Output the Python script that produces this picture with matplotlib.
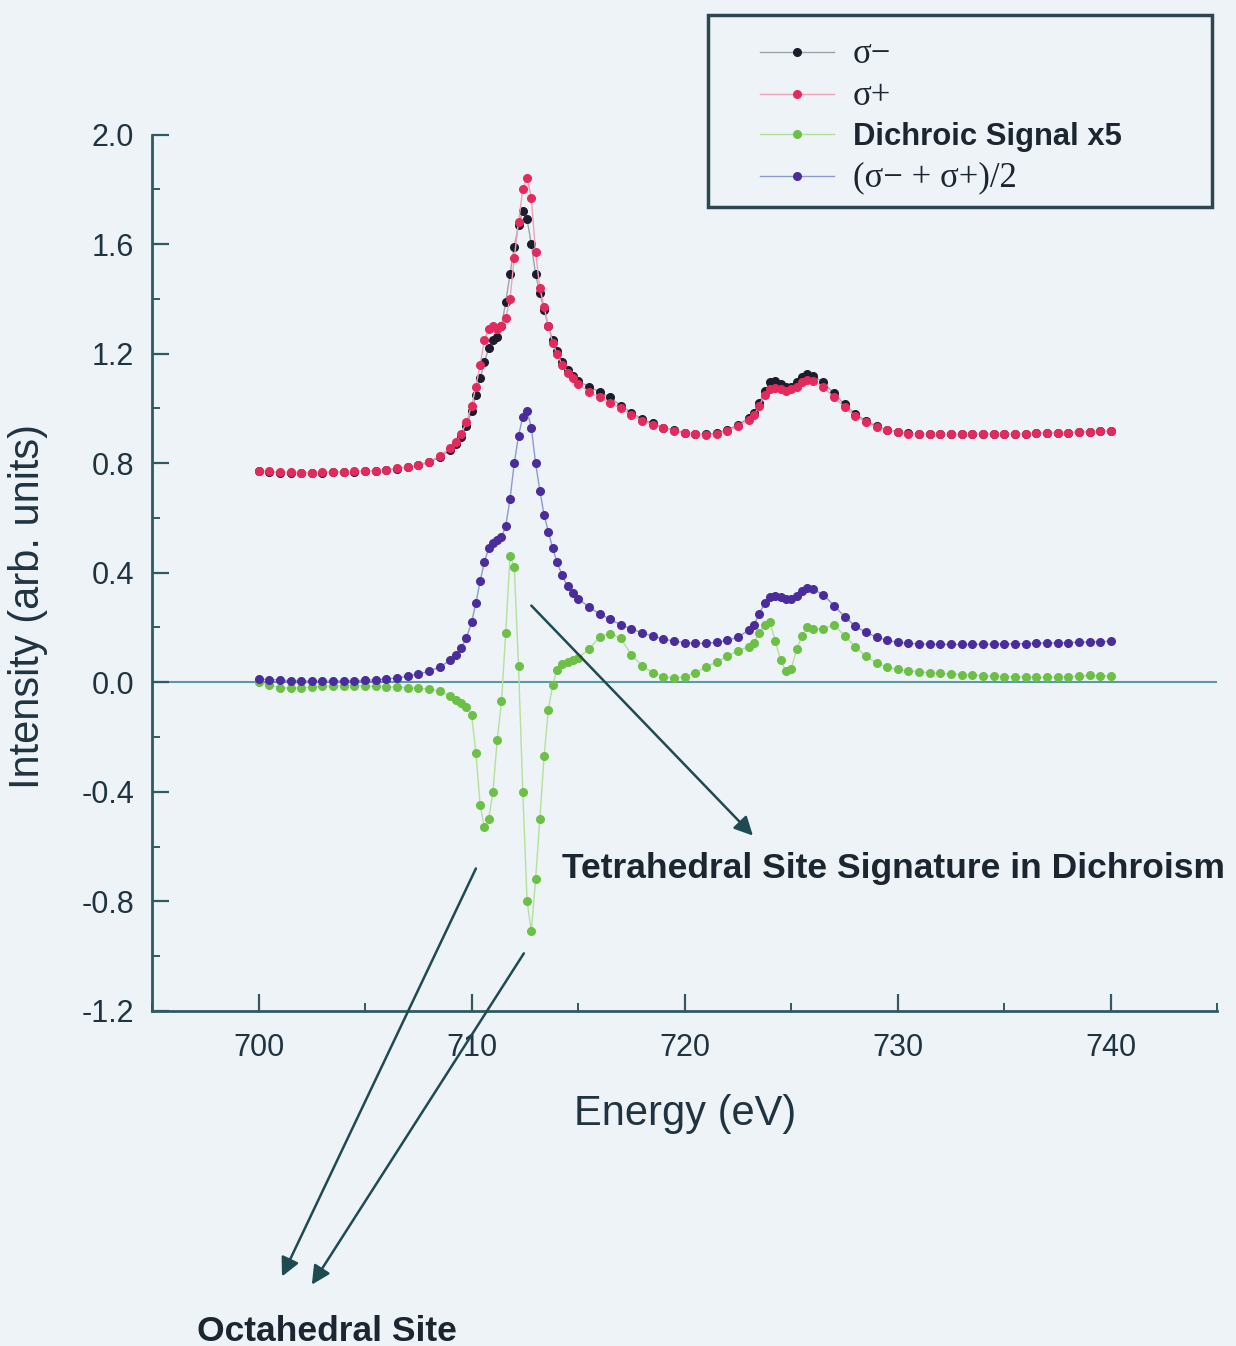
import numpy as np
import matplotlib.pyplot as plt
from matplotlib.patches import Rectangle
from matplotlib.ticker import MultipleLocator

# Energy grid (eV) shared by all spectra
energy = [700, 700.5, 701, 701.5, 702, 702.5, 703, 703.5, 704, 704.5,
          705, 705.5, 706, 706.5, 707, 707.5, 708, 708.5, 709, 709.25,
          709.5, 709.75, 710, 710.2, 710.4, 710.6, 710.8, 711, 711.2, 711.4,
          711.6, 711.8, 712, 712.2, 712.4, 712.6, 712.8, 713, 713.2, 713.4,
          713.6, 713.8, 714, 714.25, 714.5, 714.75, 715, 715.5, 716, 716.5,
          717, 717.5, 718, 718.5, 719, 719.5, 720, 720.5, 721, 721.5,
          722, 722.5, 723, 723.25, 723.5, 723.75, 724, 724.25, 724.5, 724.75,
          725, 725.25, 725.5, 725.75, 726, 726.5, 727, 727.5, 728, 728.5,
          729, 729.5, 730, 730.5, 731, 731.5, 732, 732.5, 733, 733.5,
          734, 734.5, 735, 735.5, 736, 736.5, 737, 737.5, 738, 738.5,
          739, 739.5, 740]

sigma_minus = [0.770, 0.768, 0.766, 0.765, 0.765, 0.765, 0.766, 0.767, 0.768, 0.769,
               0.770, 0.772, 0.775, 0.780, 0.786, 0.793, 0.803, 0.822, 0.850, 0.870,
               0.895, 0.935, 0.99, 1.05, 1.11, 1.17, 1.22, 1.25, 1.26, 1.30,
               1.39, 1.49, 1.59, 1.67, 1.72, 1.69, 1.60, 1.49, 1.42, 1.36,
               1.30, 1.25, 1.21, 1.17, 1.14, 1.12, 1.10, 1.08, 1.06, 1.04,
               1.01, 0.985, 0.96, 0.945, 0.93, 0.92, 0.912, 0.906, 0.905, 0.910,
               0.922, 0.940, 0.965, 0.985, 1.02, 1.065, 1.095, 1.10, 1.09, 1.08,
               1.08, 1.095, 1.115, 1.125, 1.12, 1.095, 1.055, 1.015, 0.98, 0.955,
               0.935, 0.922, 0.914, 0.909, 0.906, 0.905, 0.905, 0.905, 0.905, 0.905,
               0.906, 0.906, 0.907, 0.907, 0.908, 0.909, 0.910, 0.911, 0.912, 0.913,
               0.915, 0.916, 0.918]

sigma_plus = [0.772, 0.770, 0.768, 0.767, 0.766, 0.766, 0.767, 0.768, 0.769, 0.770,
              0.771, 0.773, 0.776, 0.781, 0.787, 0.795, 0.806, 0.826, 0.856, 0.878,
              0.905, 0.950, 1.01, 1.08, 1.16, 1.25, 1.29, 1.30, 1.29, 1.30,
              1.33, 1.40, 1.55, 1.68, 1.80, 1.84, 1.77, 1.57, 1.44, 1.37,
              1.30, 1.24, 1.20, 1.16, 1.13, 1.11, 1.09, 1.06, 1.04, 1.02,
              1.00, 0.975, 0.955, 0.94, 0.928, 0.918, 0.910, 0.905, 0.903, 0.907,
              0.918, 0.935, 0.958, 0.975, 1.01, 1.05, 1.07, 1.075, 1.07, 1.065,
              1.07, 1.08, 1.095, 1.105, 1.10, 1.08, 1.04, 1.005, 0.972, 0.95,
              0.932, 0.920, 0.913, 0.908, 0.906, 0.905, 0.905, 0.905, 0.905, 0.905,
              0.906, 0.906, 0.907, 0.907, 0.908, 0.909, 0.910, 0.911, 0.912, 0.913,
              0.915, 0.916, 0.918]

dichroic_x5 = [0.0, -0.01, -0.02, -0.022, -0.02, -0.018, -0.015, -0.014, -0.013, -0.013,
               -0.014, -0.015, -0.016, -0.018, -0.02, -0.022, -0.025, -0.032, -0.05, -0.063,
               -0.075, -0.09, -0.12, -0.26, -0.45, -0.53, -0.50, -0.40, -0.21, -0.07,
               0.18, 0.46, 0.42, 0.06, -0.40, -0.80, -0.91, -0.72, -0.50, -0.27,
               -0.10, -0.01, 0.045, 0.065, 0.075, 0.082, 0.09, 0.12, 0.165, 0.178,
               0.16, 0.10, 0.06, 0.035, 0.02, 0.015, 0.02, 0.035, 0.055, 0.075,
               0.095, 0.115, 0.13, 0.145, 0.18, 0.21, 0.22, 0.15, 0.08, 0.04,
               0.05, 0.12, 0.17, 0.20, 0.195, 0.195, 0.21, 0.17, 0.13, 0.095,
               0.07, 0.055, 0.047, 0.042, 0.038, 0.035, 0.032, 0.03, 0.028, 0.026,
               0.024, 0.022, 0.021, 0.02, 0.019, 0.018, 0.018, 0.018, 0.02, 0.022,
               0.025, 0.024, 0.022]

average = [0.012, 0.010, 0.008, 0.006, 0.005, 0.004, 0.004, 0.004, 0.005, 0.006,
           0.007, 0.009, 0.012, 0.016, 0.022, 0.030, 0.04, 0.056, 0.08, 0.10,
           0.125, 0.16, 0.22, 0.29, 0.37, 0.44, 0.49, 0.51, 0.52, 0.53,
           0.57, 0.67, 0.80, 0.90, 0.97, 0.99, 0.93, 0.80, 0.70, 0.61,
           0.55, 0.49, 0.44, 0.39, 0.35, 0.325, 0.305, 0.275, 0.25, 0.23,
           0.21, 0.195, 0.18, 0.168, 0.158, 0.150, 0.145, 0.142, 0.142, 0.146,
           0.153, 0.165, 0.19, 0.21, 0.25, 0.29, 0.31, 0.315, 0.31, 0.303,
           0.305, 0.315, 0.335, 0.345, 0.34, 0.32, 0.28, 0.24, 0.205, 0.182,
           0.165, 0.153, 0.146, 0.142, 0.140, 0.139, 0.138, 0.138, 0.138, 0.138,
           0.139, 0.139, 0.140, 0.140, 0.141, 0.142, 0.143, 0.144, 0.145, 0.146,
           0.147, 0.148, 0.150]

bg = '#eef3f8'
ink = '#1f3440'
axis_col = '#2e5a62'

plt.rcParams['font.family'] = ['Liberation Sans', 'DejaVu Sans']

fig = plt.figure(figsize=(12.36, 13.46), dpi=100, facecolor=bg)
ax = fig.add_axes([0.123, 0.249, 0.862, 0.651], facecolor=bg)

series = [
    (sigma_minus, '#1c1c2c', '#9aa4ac', 'σ−'),
    (sigma_plus, '#e42a5c', '#f0a0b8', 'σ+'),
    (dichroic_x5, '#6cc046', '#b4e09c', 'Dichroic Signal x5'),
    (average, '#4a2c9c', '#8a9ad0', '(σ− + σ+)/2'),
]
handles = []
for vals, dark, light, lab in series:
    h, = ax.plot(energy, vals, '-', color=light, lw=1.0, marker='o', ms=5.5,
                 mfc=dark, mec=dark, label=lab)
    handles.append(h)

ax.axhline(0, color='#5a9aa0', lw=1.5, zorder=0)

ax.set_xlim(695, 745)
ax.set_ylim(-1.2, 2.0)
ax.xaxis.set_major_locator(MultipleLocator(10))
ax.xaxis.set_minor_locator(MultipleLocator(5))
ax.yaxis.set_major_locator(MultipleLocator(0.4))
ax.yaxis.set_minor_locator(MultipleLocator(0.2))
ax.set_xticks([700, 710, 720, 730, 740])
ax.yaxis.set_major_formatter(plt.FormatStrFormatter('%.1f'))

for s in ['top', 'right']:
    ax.spines[s].set_visible(False)
for s in ['left', 'bottom']:
    ax.spines[s].set_color(axis_col)
    ax.spines[s].set_linewidth(2)

ax.tick_params(which='major', direction='in', length=12, width=1.6,
               color=axis_col, labelsize=22, labelcolor=ink)
ax.tick_params(which='minor', direction='in', length=6, width=1.4, color=axis_col)
ax.tick_params(axis='x', pad=16)
ax.tick_params(axis='y', pad=13)

ax.set_xlabel('Energy (eV)', fontsize=30, color=ink)
ax.set_ylabel('Intensity (arb. units)', fontsize=30, color=ink)
ax.xaxis.set_label_coords(0.5, -0.095)
ax.yaxis.set_label_coords(-0.098, 0.461)

# legend box drawn separately so its frame sits where the original one is
fig.patches.append(Rectangle((708 / 1236, 1 - 207 / 1346), 504 / 1236, 192 / 1346,
                             transform=fig.transFigure, fill=False,
                             edgecolor='#2e4650', lw=2.5))
leg = fig.legend(handles=handles, loc='upper left', bbox_to_anchor=(0.615, 0.972),
                 frameon=False, fontsize=22.3, borderpad=0, borderaxespad=0,
                 handlelength=2.4, handletextpad=0.6, labelspacing=0.3, numpoints=1)
for i, t in enumerate(leg.get_texts()):
    t.set_color('#1c2630')
    if i == 2:
        t.set_fontweight('bold')
    else:
        t.set_fontfamily(['Liberation Serif', 'DejaVu Serif'])
        t.set_fontsize(25)

arrow_col = '#1e4a52'
aprops = dict(arrowstyle='-|>', mutation_scale=28, lw=1.8, color=arrow_col,
              shrinkA=0, shrinkB=0)
ax.annotate('', xy=(723.2, -0.56), xytext=(712.8, 0.28), arrowprops=aprops)
ax.annotate('', xy=(701.1, -2.17), xytext=(710.2, -0.68), arrowprops=aprops,
            annotation_clip=False)
ax.annotate('', xy=(702.5, -2.2), xytext=(712.45, -0.99), arrowprops=aprops,
            annotation_clip=False)

ax.text(729.8, -0.68, 'Tetrahedral Site Signature in Dichroism', fontsize=25.5,
        fontweight='bold', color='#1c2630', ha='center', va='center', clip_on=False)
ax.text(703.2, -2.37, 'Octahedral Site', fontsize=25.5, fontweight='bold',
        color='#1c2630', ha='center', va='center', clip_on=False)

plt.savefig('out.png', dpi=100, facecolor=bg)
